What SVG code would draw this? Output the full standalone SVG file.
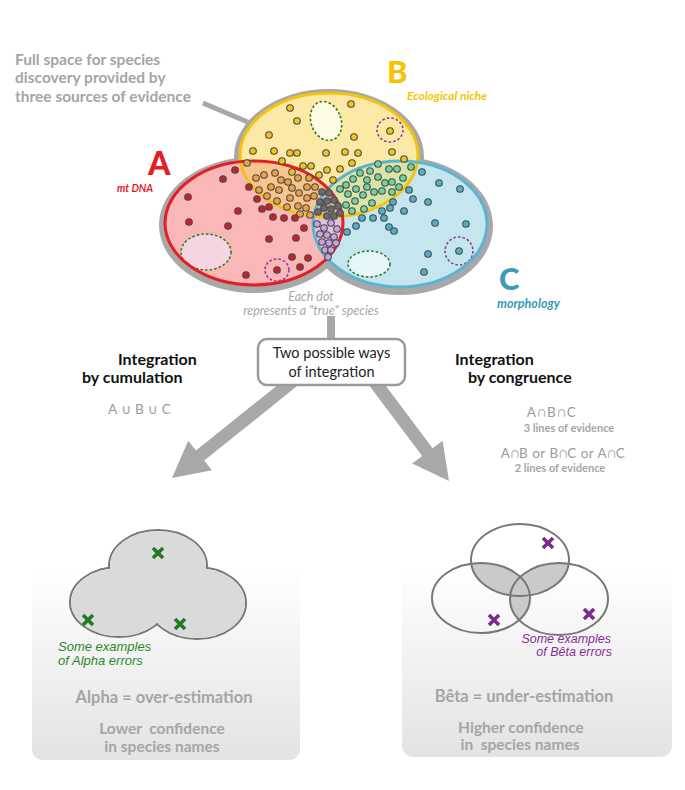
<svg xmlns="http://www.w3.org/2000/svg" width="685" height="790" viewBox="0 0 685 790">
<defs>
<style>
.lt{font-family:Lato,"Open Sans","DejaVu Sans",sans-serif}
.gb{font-family:Lato,"Open Sans",sans-serif;font-weight:bold;fill:#a5a5a5}
.hd{font-family:Lato,"Open Sans",sans-serif;font-weight:bold;fill:#111;font-size:16px}
.dt{stroke:#4a4a4a;stroke-width:1.1}
.r{fill:#c8202a}.y{fill:#f2c21f}.o{fill:#eba246}.g{fill:#72d3a2}.b{fill:#52afc9}.p{fill:#c9a3e2}.k{fill:#6a6a6a}
.dg{fill-opacity:0;stroke:#2f7f2f;stroke-width:1.6;stroke-dasharray:2.6 2}
.dp{fill:none;stroke:#8e3aa8;stroke-width:1.6;stroke-dasharray:2.6 2}
.xg{stroke:#237a23;stroke-width:3.6}
.xp{stroke:#7d2a8e;stroke-width:3.6}
.ol{fill:none;stroke:#777;stroke-width:2}
.arr{fill:#a8a8a8}
.it{font-family:'Liberation Sans',Arial,sans-serif;font-style:italic}
</style>
<clipPath id="cA"><ellipse cx="254" cy="223" rx="89" ry="62"/></clipPath>
<clipPath id="cB"><ellipse cx="329" cy="155" rx="89" ry="62"/></clipPath>
<clipPath id="cC"><ellipse cx="400" cy="224" rx="87" ry="63"/></clipPath>
<clipPath id="vT"><ellipse cx="520" cy="560" rx="49" ry="36"/></clipPath>
<clipPath id="vL"><ellipse cx="481" cy="598" rx="49" ry="35"/></clipPath>
<linearGradient id="pg" x1="0" y1="0" x2="0" y2="1">
<stop offset="0" stop-color="#ffffff"/>
<stop offset="0.2" stop-color="#ffffff"/>
<stop offset="1" stop-color="#e3e3e3"/>
</linearGradient>
</defs>
<rect width="685" height="790" fill="#fff"/>

<g id="intro-text" class="gb" font-size="15.5">
<text x="15" y="65">Full space for species</text>
<text x="15" y="83">discovery provided by</text>
<text x="15" y="102">three sources of evidence</text>
</g>

<g id="connectors">
<line x1="203" y1="103" x2="250" y2="123" stroke="#a8a8a8" stroke-width="5"/>
<rect x="327" y="316" width="8" height="26" class="arr"/>
<polygon class="arr" points="299.9,383.8 204.2,460.6 212,470.3 172,478 188.2,440.7 196,450.4 291.7,373.7"/>
<polygon class="arr" points="376.2,373.1 432.6,448.3 442.6,440.8 449,481 412.2,463.6 422.2,456.1 365.8,380.9"/>
</g>

<g id="venn">
<g fill="#a8a8a8">
<ellipse cx="254" cy="225" rx="95" ry="68"/>
<ellipse cx="329" cy="157" rx="95" ry="68"/>
<ellipse cx="400" cy="226" rx="93" ry="69"/>
</g>
<ellipse cx="254" cy="223" rx="89" ry="62" fill="#f9b7b7"/>
<ellipse cx="329" cy="155" rx="89" ry="62" fill="#fde9a6"/>
<ellipse cx="400" cy="224" rx="87" ry="63" fill="#c5e6ef"/>
<ellipse cx="329" cy="155" rx="89" ry="62" fill="#f8c58c" clip-path="url(#cA)"/>
<ellipse cx="329" cy="155" rx="89" ry="62" fill="#d7e5a8" clip-path="url(#cC)"/>
<ellipse cx="254" cy="223" rx="89" ry="62" fill="#dcc4da" clip-path="url(#cC)"/>
<g clip-path="url(#cB)"><ellipse cx="254" cy="223" rx="89" ry="62" fill="#ceb8a2" clip-path="url(#cC)"/></g>
<ellipse class="dg" cx="326" cy="121" rx="15" ry="20" transform="rotate(-20 326 121)" style="fill:#fefbe3;fill-opacity:1"/>
<ellipse class="dp" cx="390" cy="130" rx="13" ry="12"/>
<ellipse class="dg" cx="206" cy="252" rx="25" ry="18" style="fill:#f5d5e2;fill-opacity:1"/>
<ellipse class="dp" cx="277" cy="270" rx="12" ry="11"/>
<ellipse class="dg" cx="369" cy="264" rx="21" ry="13" style="fill:#e6f6fb;fill-opacity:1"/>
<ellipse class="dp" cx="459" cy="251" rx="14" ry="14"/>
<g fill="none" stroke-width="3">
<ellipse cx="329" cy="155" rx="89" ry="62" stroke="#f5c30f"/>
<ellipse cx="400" cy="224" rx="87" ry="63" stroke="#5bb5d0"/>
<ellipse cx="254" cy="223" rx="89" ry="62" stroke="#e41e26"/>
</g>
<g class="dt">
<g class="y">
<circle cx="290" cy="108" r="3.3"/><circle cx="351" cy="104" r="3.3"/><circle cx="297" cy="121" r="3.3"/><circle cx="269" cy="135" r="3.3"/><circle cx="354" cy="137" r="3.3"/><circle cx="390" cy="131" r="3.3"/><circle cx="253" cy="151" r="3.3"/><circle cx="274" cy="151" r="3.3"/><circle cx="290" cy="153" r="3.3"/><circle cx="297" cy="153" r="3.3"/><circle cx="326" cy="153" r="3.3"/><circle cx="345" cy="152" r="3.3"/><circle cx="358" cy="153" r="3.3"/><circle cx="392" cy="152" r="3.3"/><circle cx="282" cy="161" r="3.3"/><circle cx="303" cy="166" r="3.3"/><circle cx="311" cy="166" r="3.3"/><circle cx="352" cy="163" r="3.3"/><circle cx="404" cy="159" r="3.3"/><circle cx="327" cy="170" r="3.3"/><circle cx="340" cy="169" r="3.3"/><circle cx="292" cy="172" r="3.3"/><circle cx="319" cy="175" r="3.3"/><circle cx="333" cy="180" r="3.3"/>
</g>
<g class="o">
<circle cx="247" cy="163" r="3.3"/><circle cx="256" cy="178" r="3.3"/><circle cx="264" cy="175" r="3.3"/><circle cx="275" cy="173" r="3.3"/><circle cx="281" cy="180" r="3.3"/><circle cx="288" cy="182" r="3.3"/><circle cx="298" cy="178" r="3.3"/><circle cx="309" cy="178" r="3.3"/><circle cx="259" cy="190" r="3.3"/><circle cx="271" cy="187" r="3.3"/><circle cx="279" cy="190" r="3.3"/><circle cx="292" cy="188" r="3.3"/><circle cx="299" cy="193" r="3.3"/><circle cx="307" cy="187" r="3.3"/><circle cx="315" cy="187" r="3.3"/><circle cx="267" cy="196" r="3.3"/><circle cx="277" cy="201" r="3.3"/><circle cx="290" cy="198" r="3.3"/><circle cx="307" cy="198" r="3.3"/><circle cx="314" cy="196" r="3.3"/><circle cx="287" cy="207" r="3.3"/><circle cx="298" cy="206" r="3.3"/><circle cx="306" cy="208" r="3.3"/><circle cx="300" cy="214" r="3.3"/><circle cx="310" cy="215" r="3.3"/>
</g>
<g class="k">
<circle cx="322" cy="192" r="3.3"/><circle cx="329" cy="193" r="3.3"/><circle cx="320" cy="202" r="3.3"/><circle cx="327" cy="201" r="3.3"/><circle cx="334" cy="200" r="3.3"/><circle cx="338" cy="206" r="3.3"/><circle cx="324" cy="208" r="3.3"/><circle cx="331" cy="209" r="3.3"/><circle cx="318" cy="212" r="3.3"/><circle cx="327" cy="216" r="3.3"/><circle cx="334" cy="216" r="3.3"/><circle cx="340" cy="213" r="3.3"/>
</g>
<g class="g">
<circle cx="360" cy="173" r="3.3"/><circle cx="370" cy="171" r="3.3"/><circle cx="378" cy="164" r="3.3"/><circle cx="389" cy="169" r="3.3"/><circle cx="397" cy="169" r="3.3"/><circle cx="411" cy="167" r="3.3"/><circle cx="367" cy="180" r="3.3"/><circle cx="378" cy="177" r="3.3"/><circle cx="403" cy="178" r="3.3"/><circle cx="392" cy="182" r="3.3"/><circle cx="399" cy="187" r="3.3"/><circle cx="367" cy="187" r="3.3"/><circle cx="374" cy="192" r="3.3"/><circle cx="382" cy="191" r="3.3"/><circle cx="392" cy="192" r="3.3"/><circle cx="363" cy="195" r="3.3"/><circle cx="372" cy="203" r="3.3"/><circle cx="364" cy="209" r="3.3"/><circle cx="346" cy="185" r="3.3"/><circle cx="353" cy="179" r="3.3"/><circle cx="348" cy="194" r="3.3"/><circle cx="355" cy="201" r="3.3"/><circle cx="346" cy="205" r="3.3"/><circle cx="356" cy="189" r="3.3"/><circle cx="385" cy="183" r="3.3"/><circle cx="340" cy="189" r="3.3"/><circle cx="352" cy="211" r="3.3"/>
</g>
<g class="b">
<circle cx="422" cy="172" r="3.3"/><circle cx="439" cy="183" r="3.3"/><circle cx="460" cy="189" r="3.3"/><circle cx="409" cy="190" r="3.3"/><circle cx="413" cy="199" r="3.3"/><circle cx="428" cy="202" r="3.3"/><circle cx="393" cy="202" r="3.3"/><circle cx="404" cy="211" r="3.3"/><circle cx="382" cy="211" r="3.3"/><circle cx="390" cy="208" r="3.3"/><circle cx="373" cy="218" r="3.3"/><circle cx="384" cy="218" r="3.3"/><circle cx="362" cy="218" r="3.3"/><circle cx="389" cy="227" r="3.3"/><circle cx="394" cy="231" r="3.3"/><circle cx="435" cy="223" r="3.3"/><circle cx="466" cy="224" r="3.3"/><circle cx="459" cy="251" r="3.3"/><circle cx="428" cy="254" r="3.3"/><circle cx="424" cy="272" r="3.3"/><circle cx="347" cy="232" r="3.3"/><circle cx="356" cy="226" r="3.3"/>
</g>
<g class="p">
<circle cx="317" cy="224" r="3.3"/><circle cx="324" cy="228" r="3.3"/><circle cx="331" cy="223" r="3.3"/><circle cx="337" cy="229" r="3.3"/><circle cx="320" cy="234" r="3.3"/><circle cx="327" cy="235" r="3.3"/><circle cx="334" cy="237" r="3.3"/><circle cx="322" cy="242" r="3.3"/><circle cx="329" cy="243" r="3.3"/><circle cx="336" cy="243" r="3.3"/><circle cx="325" cy="250" r="3.3"/><circle cx="331" cy="250" r="3.3"/><circle cx="328" cy="257" r="3.3"/>
</g>
<g class="r">
<circle cx="235" cy="170" r="3.3"/><circle cx="223" cy="179" r="3.3"/><circle cx="188" cy="197" r="3.3"/><circle cx="249" cy="187" r="3.3"/><circle cx="257" cy="199" r="3.3"/><circle cx="262" cy="209" r="3.3"/><circle cx="269" cy="207" r="3.3"/><circle cx="238" cy="211" r="3.3"/><circle cx="189" cy="222" r="3.3"/><circle cx="228" cy="226" r="3.3"/><circle cx="273" cy="217" r="3.3"/><circle cx="284" cy="218" r="3.3"/><circle cx="295" cy="218" r="3.3"/><circle cx="304" cy="228" r="3.3"/><circle cx="296" cy="238" r="3.3"/><circle cx="269" cy="239" r="3.3"/><circle cx="292" cy="257" r="3.3"/><circle cx="300" cy="267" r="3.3"/><circle cx="308" cy="258" r="3.3"/><circle cx="246" cy="275" r="3.3"/><circle cx="277" cy="270" r="3.3"/>
</g>
</g>
</g>

<g id="label-A" class="lt" font-weight="900" fill="#e41e26">
<text x="148" y="175" font-size="32">A</text>
<text x="117" y="192" font-size="10.5" font-style="italic" font-weight="bold">mt DNA</text>
</g>
<g id="label-B" class="lt" font-weight="900" fill="#f5c400">
<text x="387" y="83" font-size="31">B</text>
<text x="407" y="100" font-size="12" font-style="italic" font-weight="bold">Ecological niche</text>
</g>
<g id="label-C" class="lt" font-weight="900" fill="#3a9cb5">
<text x="499" y="290" font-size="31">C</text>
<text x="497" y="308" font-size="12.5" font-style="italic" font-weight="bold">morphology</text>
</g>
<g id="dot-note" class="lt" font-style="italic" fill="#a8a8a8" font-size="12.5" text-anchor="middle">
<text x="311" y="301">Each dot</text>
<text x="311" y="315">represents a "true" species</text>
</g>

<g id="ways-box">
<rect x="258" y="339" width="147" height="46" rx="9" fill="#fff" stroke="#9a9a9a" stroke-width="2.5"/>
<text class="lt" x="331.5" y="358" font-size="14.5" fill="#222" text-anchor="middle">Two possible ways</text>
<text class="lt" x="331.5" y="377" font-size="14.5" fill="#222" text-anchor="middle">of integration</text>
</g>

<g id="cumulation-label">
<text class="hd" x="118" y="365">Integration</text>
<text class="hd" x="82" y="383">by cumulation</text>
<text class="lt" x="108" y="414" font-size="13.5" fill="#9a9a9a" letter-spacing="4">A∪B∪C</text>
</g>

<g id="congruence-label">
<text class="hd" x="455" y="365">Integration</text>
<text class="hd" x="468" y="383">by congruence</text>
<text class="lt" x="552" y="417" font-size="13.5" fill="#9a9a9a" text-anchor="middle" letter-spacing="1.5">A∩B∩C</text>
<text class="gb" x="569" y="432" font-size="11" text-anchor="middle">3 lines of evidence</text>
<text class="lt" x="563" y="458" font-size="13.5" fill="#9a9a9a" text-anchor="middle" letter-spacing="0.5">A∩B or B∩C or A∩C</text>
<text class="gb" x="560" y="472" font-size="11" text-anchor="middle">2 lines of evidence</text>
</g>

<g id="panel-alpha">
<rect x="32" y="522" width="268" height="238" rx="11" fill="url(#pg)"/>
<g class="ol" stroke-width="2.2">
<ellipse cx="158" cy="566" rx="49" ry="36"/>
<ellipse cx="119" cy="602" rx="49" ry="35"/>
<ellipse cx="197" cy="603" rx="49" ry="36"/>
</g>
<g fill="#dadada">
<ellipse cx="158" cy="566" rx="48" ry="35"/>
<ellipse cx="119" cy="602" rx="48" ry="34"/>
<ellipse cx="197" cy="603" rx="48" ry="35"/>
</g>
<path class="xg" d="M153,548 l10,10 M163,548 l-10,10 M83,615 l10,10 M93,615 l-10,10 M175,619 l10,10 M185,619 l-10,10"/>
<text class="it" x="58" y="651" font-size="13" fill="#2c8a2c">Some examples</text>
<text class="it" x="58" y="665" font-size="13" fill="#2c8a2c">of Alpha errors</text>
<text class="gb" x="164" y="703" font-size="16.5" text-anchor="middle">Alpha = over-estimation</text>
<text class="gb" x="162" y="734" font-size="15.5" text-anchor="middle" xml:space="preserve">Lower  confidence</text>
<text class="gb" x="162" y="752" font-size="15.5" text-anchor="middle">in species names</text>
</g>

<g id="panel-beta">
<rect x="402" y="522" width="270" height="235" rx="11" fill="url(#pg)"/>
<g fill="#cacaca">
<ellipse cx="481" cy="598" rx="49" ry="35" clip-path="url(#vT)"/>
<ellipse cx="559" cy="599" rx="49" ry="36" clip-path="url(#vT)"/>
<ellipse cx="559" cy="599" rx="49" ry="36" clip-path="url(#vL)"/>
</g>
<g class="ol" stroke-width="2.2">
<ellipse cx="520" cy="560" rx="49" ry="36"/>
<ellipse cx="481" cy="598" rx="49" ry="35"/>
<ellipse cx="559" cy="599" rx="49" ry="36"/>
</g>
<path class="xp" d="M543,538 l10,10 M553,538 l-10,10 M489,615 l10,10 M499,615 l-10,10 M584,609 l10,10 M594,609 l-10,10"/>
<text class="it" x="611" y="643" font-size="12.5" fill="#8a2a9a" text-anchor="end">Some examples</text>
<text class="it" x="612" y="656" font-size="12.5" fill="#8a2a9a" text-anchor="end">of Bêta errors</text>
<text class="gb" x="524" y="702" font-size="16.5" text-anchor="middle">Bêta = under-estimation</text>
<text class="gb" x="521" y="733" font-size="15.5" text-anchor="middle">Higher confidence</text>
<text class="gb" x="520" y="750" font-size="15.5" text-anchor="middle" xml:space="preserve">in  species names</text>
</g>
</svg>
